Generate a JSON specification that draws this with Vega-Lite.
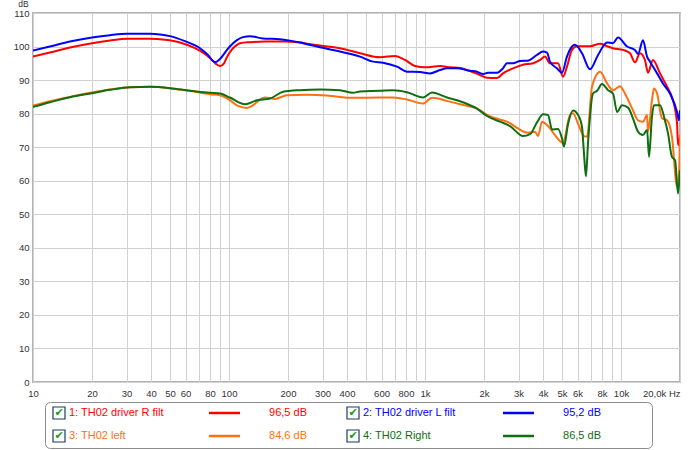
{
"$schema": "https://vega.github.io/schema/vega-lite/v6.json",
"background": "white",
"padding": {"left": 12, "top": -2, "right": 0, "bottom": 0},
"spacing": 20,
"bounds": "flush",
"config": {"font": "Liberation Sans", "view": {"stroke": null}},
"datasets": {
"fr": [
{"s":"R","f":10,"db":97.0},{"s":"R","f":12.2,"db":98.2},{"s":"R","f":15.44,"db":99.7},{"s":"R","f":20,"db":101.0},{"s":"R","f":24.71,"db":101.8},{"s":"R","f":30.2,"db":102.3},{"s":"R","f":39.5,"db":102.3},{"s":"R","f":47.15,"db":102.0},{"s":"R","f":56.2,"db":101.2},{"s":"R","f":67.1,"db":99.5},{"s":"R","f":75.4,"db":97.8},{"s":"R","f":81.9,"db":96.0},{"s":"R","f":86.8,"db":94.6},{"s":"R","f":90,"db":94.2},{"s":"R","f":94.3,"db":95.0},{"s":"R","f":97.7,"db":96.9},{"s":"R","f":101,"db":98.3},{"s":"R","f":104.8,"db":99.5},{"s":"R","f":109.8,"db":100.5},{"s":"R","f":113.8,"db":101.0},{"s":"R","f":128,"db":101.3},{"s":"R","f":152.6,"db":101.5},{"s":"R","f":188.7,"db":101.5},{"s":"R","f":230,"db":101.2},{"s":"R","f":259,"db":100.7},{"s":"R","f":308.8,"db":100.1},{"s":"R","f":368,"db":99.5},{"s":"R","f":466,"db":98.0},{"s":"R","f":589,"db":96.8},{"s":"R","f":703,"db":97.2},{"s":"R","f":791,"db":96.0},{"s":"R","f":889,"db":94.2},{"s":"R","f":1000,"db":93.8},{"s":"R","f":1194,"db":94.2},{"s":"R","f":1342,"db":93.8},{"s":"R","f":1510,"db":93.6},{"s":"R","f":1698,"db":92.7},{"s":"R","f":1909,"db":91.5},{"s":"R","f":2072,"db":90.7},{"s":"R","f":2329,"db":90.6},{"s":"R","f":2500,"db":92.0},{"s":"R","f":2812,"db":93.5},{"s":"R","f":3162,"db":94.6},{"s":"R","f":3559,"db":95.0},{"s":"R","f":3863,"db":96.0},{"s":"R","f":4095,"db":97.0},{"s":"R","f":4342,"db":95.0},{"s":"R","f":4771,"db":95.0},{"s":"R","f":5060,"db":91.0},{"s":"R","f":5300,"db":94.0},{"s":"R","f":5623,"db":99.0},{"s":"R","f":5966,"db":100.1},{"s":"R","f":6950,"db":100.1},{"s":"R","f":7816,"db":100.8},{"s":"R","f":8492,"db":100.1},{"s":"R","f":9102,"db":99.5},{"s":"R","f":10233,"db":99.0},{"s":"R","f":11117,"db":98.0},{"s":"R","f":11776,"db":95.3},{"s":"R","f":12502,"db":98.0},{"s":"R","f":13244,"db":96.0},{"s":"R","f":13740,"db":92.2},{"s":"R","f":14555,"db":96.0},{"s":"R","f":15812,"db":92.0},{"s":"R","f":17180,"db":88.0},{"s":"R","f":18408,"db":84.0},{"s":"R","f":19320,"db":77.0},{"s":"R","f":19543,"db":70.6},{"s":"R","f":20000,"db":73.0},
{"s":"L","f":10,"db":98.8},{"s":"L","f":12.2,"db":100.0},{"s":"L","f":15.44,"db":101.5},{"s":"L","f":20,"db":102.7},{"s":"L","f":24.71,"db":103.4},{"s":"L","f":30.2,"db":103.8},{"s":"L","f":39.5,"db":103.8},{"s":"L","f":44.5,"db":103.6},{"s":"L","f":50,"db":103.1},{"s":"L","f":59.6,"db":101.6},{"s":"L","f":71.1,"db":99.5},{"s":"L","f":78.1,"db":97.5},{"s":"L","f":82.8,"db":95.7},{"s":"L","f":85.8,"db":95.4},{"s":"L","f":90,"db":96.3},{"s":"L","f":97.7,"db":99.0},{"s":"L","f":101,"db":100.0},{"s":"L","f":109.8,"db":101.9},{"s":"L","f":117.9,"db":102.8},{"s":"L","f":128,"db":103.1},{"s":"L","f":149,"db":102.4},{"s":"L","f":182,"db":102.2},{"s":"L","f":238.7,"db":101.0},{"s":"L","f":291,"db":99.8},{"s":"L","f":368,"db":98.5},{"s":"L","f":466,"db":97.0},{"s":"L","f":543,"db":95.5},{"s":"L","f":611,"db":95.2},{"s":"L","f":720,"db":94.0},{"s":"L","f":810,"db":92.5},{"s":"L","f":942,"db":92.4},{"s":"L","f":1061,"db":92.0},{"s":"L","f":1194,"db":93.0},{"s":"L","f":1295,"db":93.5},{"s":"L","f":1457,"db":93.5},{"s":"L","f":1698,"db":92.8},{"s":"L","f":1842,"db":92.5},{"s":"L","f":1978,"db":91.8},{"s":"L","f":2096,"db":92.2},{"s":"L","f":2329,"db":92.2},{"s":"L","f":2500,"db":93.5},{"s":"L","f":2620,"db":95.0},{"s":"L","f":2812,"db":95.0},{"s":"L","f":3053,"db":95.7},{"s":"L","f":3355,"db":95.8},{"s":"L","f":3728,"db":97.5},{"s":"L","f":4001,"db":98.5},{"s":"L","f":4192,"db":98.2},{"s":"L","f":4342,"db":95.5},{"s":"L","f":4712,"db":93.5},{"s":"L","f":5000,"db":92.2},{"s":"L","f":5300,"db":97.0},{"s":"L","f":5623,"db":100.0},{"s":"L","f":5823,"db":100.5},{"s":"L","f":6324,"db":98.0},{"s":"L","f":6950,"db":93.2},{"s":"L","f":7638,"db":97.5},{"s":"L","f":8492,"db":101.2},{"s":"L","f":9102,"db":101.0},{"s":"L","f":9661,"db":102.7},{"s":"L","f":10740,"db":100.0},{"s":"L","f":11776,"db":99.0},{"s":"L","f":12218,"db":97.8},{"s":"L","f":12942,"db":101.9},{"s":"L","f":13583,"db":97.0},{"s":"L","f":14060,"db":95.5},{"s":"L","f":15276,"db":92.0},{"s":"L","f":16370,"db":89.0},{"s":"L","f":17783,"db":86.0},{"s":"L","f":19320,"db":80.5},{"s":"L","f":19770,"db":78.0},{"s":"L","f":20000,"db":81.0},
{"s":"O","f":10,"db":82.4},{"s":"O","f":12.2,"db":83.7},{"s":"O","f":15.44,"db":85.0},{"s":"O","f":20,"db":86.3},{"s":"O","f":24.71,"db":87.2},{"s":"O","f":31.26,"db":87.9},{"s":"O","f":39.5,"db":88.0},{"s":"O","f":50,"db":87.6},{"s":"O","f":63.2,"db":86.8},{"s":"O","f":80,"db":85.8},{"s":"O","f":90,"db":85.5},{"s":"O","f":101,"db":84.0},{"s":"O","f":111.1,"db":82.3},{"s":"O","f":123.6,"db":81.7},{"s":"O","f":131.1,"db":82.3},{"s":"O","f":139,"db":83.5},{"s":"O","f":152.6,"db":84.8},{"s":"O","f":171.8,"db":84.4},{"s":"O","f":197.7,"db":85.5},{"s":"O","f":250,"db":85.6},{"s":"O","f":316,"db":85.4},{"s":"O","f":429,"db":84.7},{"s":"O","f":589,"db":84.8},{"s":"O","f":687,"db":84.8},{"s":"O","f":810,"db":84.2},{"s":"O","f":977,"db":83.0},{"s":"O","f":1086,"db":84.7},{"s":"O","f":1295,"db":83.8},{"s":"O","f":1510,"db":82.8},{"s":"O","f":1842,"db":81.5},{"s":"O","f":2072,"db":79.6},{"s":"O","f":2620,"db":77.6},{"s":"O","f":3355,"db":74.3},{"s":"O","f":3642,"db":74.6},{"s":"O","f":3772,"db":73.3},{"s":"O","f":3954,"db":77.6},{"s":"O","f":4192,"db":76.6},{"s":"O","f":4342,"db":75.6},{"s":"O","f":4604,"db":73.6},{"s":"O","f":5060,"db":71.3},{"s":"O","f":5495,"db":79.6},{"s":"O","f":5690,"db":80.1},{"s":"O","f":6039,"db":77.0},{"s":"O","f":6474,"db":73.3},{"s":"O","f":6714,"db":73.1},{"s":"O","f":7112,"db":88.0},{"s":"O","f":7816,"db":92.5},{"s":"O","f":8492,"db":89.0},{"s":"O","f":9102,"db":87.0},{"s":"O","f":9886,"db":88.2},{"s":"O","f":10471,"db":86.0},{"s":"O","f":11508,"db":81.0},{"s":"O","f":12218,"db":78.0},{"s":"O","f":12942,"db":77.6},{"s":"O","f":13583,"db":79.6},{"s":"O","f":13740,"db":74.6},{"s":"O","f":14388,"db":84.0},{"s":"O","f":14723,"db":87.5},{"s":"O","f":15276,"db":86.0},{"s":"O","f":16181,"db":78.6},{"s":"O","f":17180,"db":78.0},{"s":"O","f":18197,"db":73.1},{"s":"O","f":19320,"db":58.2},{"s":"O","f":19770,"db":62.1},{"s":"O","f":20000,"db":73.6},
{"s":"G","f":10,"db":82.0},{"s":"G","f":12.2,"db":83.4},{"s":"G","f":15.44,"db":84.9},{"s":"G","f":20,"db":86.1},{"s":"G","f":24.71,"db":87.1},{"s":"G","f":31.26,"db":87.9},{"s":"G","f":39.5,"db":88.0},{"s":"G","f":50,"db":87.6},{"s":"G","f":63.2,"db":86.8},{"s":"G","f":80,"db":86.2},{"s":"G","f":90,"db":86.0},{"s":"G","f":101,"db":84.8},{"s":"G","f":120.7,"db":82.8},{"s":"G","f":139,"db":84.0},{"s":"G","f":161.9,"db":84.5},{"s":"G","f":188.7,"db":86.5},{"s":"G","f":230,"db":87.0},{"s":"G","f":291,"db":87.2},{"s":"G","f":368,"db":87.0},{"s":"G","f":429,"db":86.2},{"s":"G","f":466,"db":86.6},{"s":"G","f":589,"db":86.8},{"s":"G","f":687,"db":87.0},{"s":"G","f":810,"db":86.4},{"s":"G","f":977,"db":84.8},{"s":"G","f":1086,"db":86.3},{"s":"G","f":1295,"db":84.8},{"s":"G","f":1510,"db":83.7},{"s":"G","f":1698,"db":82.5},{"s":"G","f":1842,"db":81.5},{"s":"G","f":2072,"db":79.3},{"s":"G","f":2414,"db":77.6},{"s":"G","f":2714,"db":76.3},{"s":"G","f":3162,"db":73.3},{"s":"G","f":3436,"db":73.9},{"s":"G","f":3728,"db":77.4},{"s":"G","f":4001,"db":79.8},{"s":"G","f":4243,"db":79.6},{"s":"G","f":4446,"db":75.3},{"s":"G","f":4771,"db":75.4},{"s":"G","f":5000,"db":72.6},{"s":"G","f":5118,"db":70.2},{"s":"G","f":5365,"db":76.8},{"s":"G","f":5690,"db":80.9},{"s":"G","f":6039,"db":79.6},{"s":"G","f":6324,"db":76.1},{"s":"G","f":6474,"db":68.1},{"s":"G","f":6624,"db":61.3},{"s":"G","f":6792,"db":71.5},{"s":"G","f":7194,"db":86.0},{"s":"G","f":7551,"db":86.8},{"s":"G","f":7998,"db":88.8},{"s":"G","f":8590,"db":87.0},{"s":"G","f":9102,"db":86.0},{"s":"G","f":9550,"db":80.5},{"s":"G","f":10116,"db":82.5},{"s":"G","f":10864,"db":81.8},{"s":"G","f":11508,"db":78.6},{"s":"G","f":12218,"db":74.6},{"s":"G","f":12942,"db":73.6},{"s":"G","f":13583,"db":75.1},{"s":"G","f":13900,"db":67.1},{"s":"G","f":14388,"db":79.1},{"s":"G","f":14723,"db":82.5},{"s":"G","f":15812,"db":82.5},{"s":"G","f":16749,"db":78.0},{"s":"G","f":17378,"db":74.1},{"s":"G","f":18197,"db":67.1},{"s":"G","f":18880,"db":66.1},{"s":"G","f":19543,"db":56.2},{"s":"G","f":20000,"db":63.1}
],
"leg": [
{"s":"R","col":1,"row":1,"label":"1: TH02 driver R filt","val":"96,5 dB"},
{"s":"L","col":2,"row":1,"label":"2: TH02 driver L filt","val":"95,2 dB"},
{"s":"O","col":1,"row":2,"label":"3: TH02 left","val":"84,6 dB"},
{"s":"G","col":2,"row":2,"label":"4: TH02 Right","val":"86,5 dB"}
]
},
"vconcat": [
{
"width": 647,
"height": 369,
"data": {"name": "fr"},
"view": {"stroke": "#b4b4b4", "strokeWidth": 2},
"mark": {"type": "line", "interpolate": "monotone", "strokeWidth": 2, "clip": true},
"encoding": {
"x": {"field": "f", "type": "quantitative",
"scale": {"type": "log", "domain": [10, 20000], "nice": false},
"axis": {"title": null,
"values": [10,20,30,40,50,60,70,80,90,100,200,300,400,500,600,700,800,900,1000,2000,3000,4000,5000,6000,7000,8000,9000,10000,20000],
"labelExpr": "datum.value == 20000 ? '20,0k Hz' : (indexof([70,90,500,700,900,7000,9000], datum.value) >= 0 ? '' : (datum.value >= 1000 ? (datum.value/1000) + 'k' : '' + datum.value))",
"labelOverlap": false, "labelFlush": false, "labelBound": false,
"labelAlign": {"condition": {"test": "datum.value == 20000", "value": "right"}, "value": "center"},
"labelDx": {"condition": {"test": "datum.value == 20000", "value": 15}, "value": 0},
"ticks": false, "domain": false, "labelPadding": 6,
"labelFontSize": 9.5, "labelColor": "#333333", "labelFont": "Liberation Sans",
"grid": true, "gridColor": "#d0d0d0", "gridWidth": 1}},
"y": {"field": "db", "type": "quantitative",
"scale": {"domain": [0, 110], "nice": false, "zero": false},
"axis": {"title": "dB", "titleAngle": 0, "titleX": -10, "titleY": -7, "titleAlign": "center", "titleBaseline": "alphabetic",
"titleFontSize": 8.5, "titleFontWeight": "normal", "titleColor": "#333333", "titleFont": "Liberation Sans",
"values": [0,10,20,30,40,50,60,70,80,90,100,110],
"labelFontSize": 9.5, "labelColor": "#333333", "labelFont": "Liberation Sans", "labelPadding": 4,
"ticks": false, "domain": false, "grid": true, "gridColor": "#d0d0d0", "gridWidth": 1}},
"color": {"field": "s", "type": "nominal",
"scale": {"domain": ["R","L","O","G"], "range": ["#ff0000","#0000ff","#ff7010","#0f6e0f"]},
"legend": null}
}
},
{
"hconcat": [
{
"width": 12,
"height": 46,
"data": {"values": [{"k": 1}]},
"view": {"stroke": null},
"mark": {"type": "point", "opacity": 0},
"encoding": {}
},
{
"width": 607,
"height": 46,
"data": {"name": "leg"},
"view": {"stroke": "#8c8c8c", "strokeWidth": 1, "cornerRadius": 5},
"encoding": {
"x": {"field": "col", "type": "ordinal", "scale": {"type": "point", "range": [14, 308], "padding": 0}, "axis": null},
"y": {"field": "row", "type": "ordinal", "scale": {"type": "point", "range": [11, 34], "padding": 0}, "axis": null},
"color": {"field": "s", "type": "nominal",
"scale": {"domain": ["R","L","O","G"], "range": ["#ff0000","#0000ff","#ff7010","#0f6e0f"]},
"legend": null}
},
"layer": [
{"mark": {"type": "square", "size": 144, "filled": false, "fill": "white", "strokeWidth": 1.2, "opacity": 1},
 "encoding": {"color": {"value": "#1c3c64"}}},
{"mark": {"type": "text", "text": "✔", "fontSize": 11, "font": "DejaVu Sans", "align": "center", "baseline": "middle"},
 "encoding": {"color": {"value": "#1f9a1f"}}},
{"mark": {"type": "text", "align": "left", "baseline": "middle", "dx": 10, "fontSize": 11, "font": "Liberation Sans"},
 "encoding": {"text": {"field": "label"}}},
{"mark": {"type": "rule", "xOffset": 150, "x2Offset": 181, "strokeWidth": 2.5},
 "encoding": {"x2": {"field": "col"}}},
{"mark": {"type": "text", "align": "right", "baseline": "middle", "dx": 248, "fontSize": 11, "font": "Liberation Sans"},
 "encoding": {"text": {"field": "val"}}}
]
}
],
"spacing": 0,
"bounds": "flush"
}
]
}
